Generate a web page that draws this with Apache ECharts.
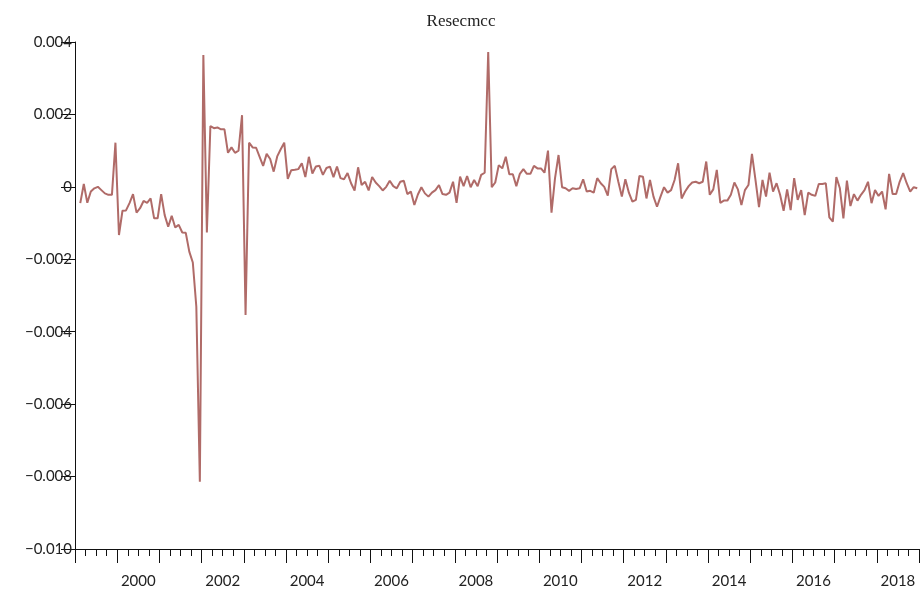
<!DOCTYPE html>
<html>
<head>
<meta charset="utf-8">
<script src="https://cdn.jsdelivr.net/npm/echarts@6/dist/echarts.min.js"></script>
<style>html,body{margin:0;padding:0;background:#fff;}#chart{width:922px;height:592px;}</style>
</head>
<body>
<div id="chart"></div>
<script>
// Monthly series, first observation Feb 1999
var startYear = 1999;
var startMonth = 2;
var resecmcc = [
-0.00045,0.00008,-0.00044,-0.00013,-0.00004,0.0,-0.00009,-0.00018,-0.00022,-0.00022,
0.00122,-0.00133,-0.00066,-0.00065,-0.00045,-0.0002,-0.00071,-0.00059,-0.00039,-0.00044,
-0.00032,-0.00087,-0.00087,-0.0002,-0.00078,-0.0011,-0.0008,-0.00112,-0.00105,-0.00126,
-0.00127,-0.00179,-0.00209,-0.00331,-0.00814,0.00364,-0.00126,0.00168,0.00162,0.00164,
0.00159,0.00159,0.00094,0.00109,0.00094,0.001,0.00198,-0.00354,0.00122,0.00109,
0.00108,0.00083,0.00058,0.00091,0.00077,0.00042,0.00084,0.00104,0.00122,0.00022,
0.00046,0.00047,0.00049,0.00065,0.00027,0.00083,0.00037,0.00056,0.00058,0.00033,
0.00052,0.00056,0.00027,0.00056,0.00024,0.00021,0.00038,0.0001,-0.0001,0.00054,
0.00005,0.00014,-0.0001,0.00027,0.00012,0.00002,-0.0001,0.0,0.00017,0.00002,
-0.00004,0.00014,0.00017,-0.0002,-0.00013,-0.0005,-0.00021,-0.00001,-0.00018,-0.00027,
-0.00016,-0.00009,0.00005,-0.0002,-0.00022,-0.00016,0.00014,-0.00044,0.00028,0.00002,
0.0003,-0.00001,0.00019,0.00002,0.00033,0.00039,0.00372,-0.00001,0.00012,0.0006,
0.00051,0.00083,0.00035,0.00035,0.00002,0.00036,0.00049,0.00036,0.00036,0.00058,
0.00051,0.00051,0.00039,0.001,-0.00071,0.00024,0.00088,-0.00001,-0.00004,-0.00011,
-0.00004,-0.00006,-0.00004,0.00021,-0.00013,-0.00011,-0.00016,0.00024,0.0001,0.0,
-0.00024,0.00049,0.00058,0.00014,-0.00027,0.00021,-0.00016,-0.00041,-0.00036,0.0003,
0.00028,-0.00032,0.00019,-0.00027,-0.00055,-0.00027,-0.00001,-0.00016,-0.00009,0.00019,
0.00065,-0.00032,-0.00013,0.00002,0.00012,0.00014,0.0001,0.00014,0.0007,-0.00022,
-0.00007,0.00047,-0.00044,-0.00038,-0.00038,-0.00022,0.00012,-0.00007,-0.0005,-0.00009,
0.00005,0.00091,0.00019,-0.00056,0.00019,-0.00027,0.00039,-0.00013,0.0001,-0.00022,
-0.00066,-0.00007,-0.00064,0.00024,-0.00036,-0.00009,-0.00078,-0.00016,-0.00022,-0.00025,
0.00008,0.00008,0.0001,-0.00084,-0.00096,0.00027,-0.00004,-0.00087,0.00017,-0.00053,
-0.0002,-0.00038,-0.00022,-0.00009,0.00014,-0.00045,-0.00009,-0.00025,-0.00013,-0.00062,
0.00036,-0.0002,-0.0002,0.00014,0.00038,0.0001,-0.00013,-0.00001,-0.00004
];
var xLabelYears = [2000, 2002, 2004, 2006, 2008, 2010, 2012, 2014, 2016, 2018];
var yMin = -0.010, yMax = 0.004, yStep = 0.002;
var xMin = 1999, xMax = 2019;

// month position (mid-month) in fractional years
var data = resecmcc.map(function (v, i) {
  var t = startYear + (startMonth - 1 + i + 0.5) / 12;
  return [t, v];
});

var chart = echarts.init(document.getElementById('chart'), null, {renderer: 'canvas'});
var fontSans = 'Lato, "Open Sans", sans-serif';
chart.setOption({
  animation: false,
  backgroundColor: '#ffffff',
  title: {
    text: 'Resecmcc',
    left: 'center',
    top: 8,
    textStyle: {fontFamily: '"Liberation Serif", serif', fontSize: 17, fontWeight: 'normal', color: '#222'}
  },
  grid: {left: 75, right: 3, top: 42, bottom: 43, containLabel: false},
  xAxis: [{
    type: 'value', min: xMin, max: xMax, interval: 1, position: 'bottom',
    axisLine: {show: true, onZero: false, lineStyle: {color: '#111', width: 1}},
    axisTick: {show: true, length: 14, lineStyle: {color: '#111', width: 1}},
    minorTick: {show: true, splitNumber: 4, length: 7, lineStyle: {color: '#111', width: 1}},
    axisLabel: {show: false},
    splitLine: {show: false},
    minorSplitLine: {show: false}
  }, {
    type: 'value', min: xMin, max: xMax, interval: 0.5, position: 'bottom',
    axisLine: {show: false, onZero: false}, axisTick: {show: false}, splitLine: {show: false},
    axisLabel: {
      show: true, margin: 25, fontFamily: fontSans, fontSize: 15, color: '#222',
      formatter: function (v) {
        var y = v - 0.5;
        return xLabelYears.indexOf(y) >= 0 ? String(y) : '';
      }
    }
  }],
  yAxis: {
    type: 'value', min: yMin, max: yMax, interval: yStep,
    axisLine: {show: true, onZero: false, lineStyle: {color: '#111', width: 1}},
    axisTick: {show: true, length: 14, lineStyle: {color: '#111', width: 1}},
    splitLine: {show: false},
    axisLabel: {
      margin: 3, fontFamily: fontSans, fontSize: 15, color: '#222',
      formatter: function (v) {
        if (Math.abs(v) < 1e-12) return '0';
        return v.toFixed(3).replace('-', '\u2212');
      }
    }
  },
  series: [{
    type: 'line',
    xAxisIndex: 0,
    data: data,
    showSymbol: false,
    lineStyle: {color: '#b06b68', width: 2},
    itemStyle: {color: '#b06b68'}
  }]
});
</script>
</body>
</html>
